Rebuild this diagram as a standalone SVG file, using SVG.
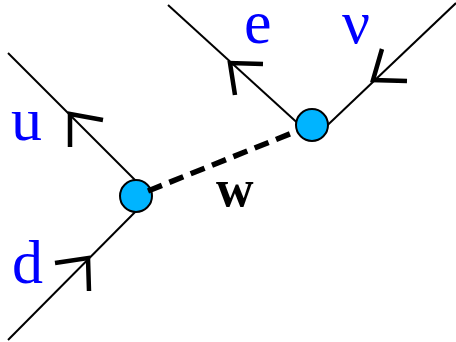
<svg xmlns="http://www.w3.org/2000/svg" width="456" height="342" viewBox="0 0 456 342">
<style>
.ln{stroke:#000;stroke-width:2;fill:none}
.ar{stroke:#000;stroke-width:4.5;fill:none;stroke-linejoin:miter;stroke-linecap:butt}
.vx{fill:#00B4FF;stroke:#000;stroke-width:2}
.lbl{font-family:"Liberation Serif","Times New Roman",serif;font-size:62px;fill:#0000FF}
.w{font-family:"Liberation Serif","Times New Roman",serif;font-size:52px;font-weight:bold;fill:#000}
</style>
<rect width="456" height="342" fill="#fff"/>
<g id="connectors">
<line class="ln" x1="8" y1="53" x2="151" y2="196"/>
<line class="ln" x1="8" y1="340" x2="151" y2="196"/>
<line class="ln" x1="168" y1="5" x2="314" y2="138"/>
<line class="ln" x1="456" y1="3" x2="314" y2="138"/>
<polyline class="ar" points="103,120 70,114 70,147"/>
<polyline class="ar" points="263,64 230,63 235,95"/>
<polyline class="ar" points="382,49 373,80 407,81"/>
<polyline class="ar" points="55,263 88,258 89,291"/>
</g>
<g id="vertex-left"><circle class="vx" cx="136" cy="196" r="16"/></g>
<g id="vertex-right"><circle class="vx" cx="312" cy="125" r="16"/></g>
<g id="propagator-w">
<line x1="148" y1="191" x2="297" y2="131" stroke="#000" stroke-width="5.5" stroke-dasharray="15 8"/>
</g>
<g id="labels">
<text class="lbl" x="11" y="140">u</text>
<text class="lbl" x="12" y="283">d</text>
<text class="lbl" x="244" y="43">e</text>
<text class="lbl" x="342" y="43">ν</text>
<text class="w" x="216" y="206">w</text>
</g>
</svg>
